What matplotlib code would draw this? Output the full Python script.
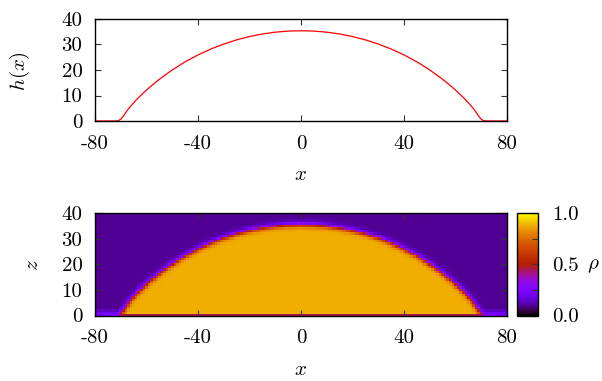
import numpy as np
import matplotlib
matplotlib.use("Agg")
import matplotlib.pyplot as plt
from matplotlib.path import Path

plt.rcParams["font.family"] = "serif"
plt.rcParams["font.serif"] = ["cmr10", "DejaVu Serif"]
plt.rcParams["mathtext.fontset"] = "cm"
plt.rcParams["axes.unicode_minus"] = False

# ---- data ----
# droplet height profile h(x), right half (mirrored for the left half)
x_half = [0, 5, 10, 15, 20, 25, 30, 35, 40, 45, 50, 55, 58, 60, 62, 64, 66,
          67, 68, 69, 70, 71, 72, 75, 80]
h_half = [35.4, 35.26, 34.84, 34.13, 33.12, 31.82, 30.19, 28.23, 25.91, 23.19,
          20.03, 16.37, 13.9, 12.13, 10.25, 8.25, 6.0, 4.8, 3.4, 1.9, 0.7,
          0.1, 0.0, 0.0, 0.0]

x_prof = [-v for v in reversed(x_half[1:])] + x_half
h_prof = list(reversed(h_half[1:])) + h_half

# density field parameters
rho_liquid = 0.88
rho_vapour = 0.10
interface_width = 1.05
rho_wall_liquid = 0.45          # first row under the droplet
rho_wall_vapour = [0.24, 0.20, 0.14]   # rows z = 0, 1, 2 outside the droplet
contact_x = 71

x_ticks = [-80, -40, 0, 40, 80]
x_ticklabels = ["-80", "-40", "0", "40", "80"]
y_ticks = [0, 10, 20, 30, 40]
y_ticklabels = ["0", "10", "20", "30", "40"]
cb_ticks = [0.0, 0.25, 0.5, 0.75, 1.0]
cb_ticklabels = ["0.0", "", "0.5", "", "1.0"]

# ---- build density grid from the profile ----
x_grid = np.arange(-80, 81)
z_grid = np.arange(0, 41)
X, Z = np.meshgrid(x_grid, z_grid)
px = np.array(x_prof, float)
ph = np.array(h_prof, float)
sel = np.abs(px) <= contact_x
sx, sh = px[sel], ph[sel]
d = np.full(X.shape, np.inf)
for i in range(len(sx) - 1):
    ax_, az_ = sx[i], sh[i]
    bx_, bz_ = sx[i + 1], sh[i + 1]
    vx, vz = bx_ - ax_, bz_ - az_
    L2 = vx * vx + vz * vz
    t = np.clip(((X - ax_) * vx + (Z - az_) * vz) / L2, 0, 1)
    dd = np.hypot(X - (ax_ + t * vx), Z - (az_ + t * vz))
    d = np.minimum(d, dd)
poly = Path(np.column_stack([np.r_[sx, contact_x, -contact_x],
                             np.r_[sh, -1.0, -1.0]]))
inside = poly.contains_points(np.column_stack([X.ravel(), Z.ravel() + 1e-6])).reshape(X.shape)
sgn = np.where(inside, 1.0, -1.0)
rho = rho_vapour + (rho_liquid - rho_vapour) * 0.5 * (1 + np.tanh(sgn * d / interface_width))
rho[0] = np.where(np.abs(x_grid) < contact_x - 0.5, rho_wall_liquid, rho_wall_vapour[0])
for j in (1, 2):
    rho[j] = np.maximum(rho[j], rho_wall_vapour[j])

# ---- figure ----
W, H = 602, 381
fig = plt.figure(figsize=(W / 100, H / 100), dpi=100)

def axrect(l, t, r, b):
    return [l / W, 1 - b / H, (r - l) / W, (b - t) / H]

ax1 = fig.add_axes(axrect(95, 19, 507, 121))
ax2 = fig.add_axes(axrect(95, 213, 507, 315.5))
cax = fig.add_axes(axrect(517, 213, 538, 315.5))

fs = 15
for ax in (ax1, ax2):
    ax.set_xlim(-80, 80)
    ax.set_ylim(0, 40)
    ax.set_xticks(x_ticks)
    ax.set_xticklabels(x_ticklabels)
    ax.set_yticks(y_ticks)
    ax.set_yticklabels(y_ticklabels)
    ax.tick_params(direction="in", length=4.5, width=0.8, top=True, right=True,
                   labelsize=fs, color="#333333")
    ax.tick_params(axis="x", pad=10)
    ax.tick_params(axis="y", pad=9)
    for s in ax.spines.values():
        s.set_linewidth(1.0)

ax1.plot(x_prof, h_prof, color="red", lw=0.9)

mesh = ax2.pcolormesh(x_grid, z_grid, rho, cmap="gnuplot", vmin=0, vmax=1,
                      shading="nearest")

cb = fig.colorbar(mesh, cax=cax)
cb.set_ticks(cb_ticks)
cb.set_ticklabels(cb_ticklabels)
cax.tick_params(direction="in", length=4.5, width=0.8, labelsize=fs, pad=10,
                color="#333333")
cb.outline.set_linewidth(1.0)

fig.text(301 / W, 1 - 175 / H, r"$x$", fontsize=fs, ha="center", va="center")
fig.text(301 / W, 1 - 370 / H, r"$x$", fontsize=fs, ha="center", va="center")
fig.text(20 / W, 1 - 71 / H, r"$h(x)$", fontsize=fs, ha="center", va="center",
         rotation=90)
fig.text(33 / W, 1 - 265 / H, r"$z$", fontsize=fs, ha="center", va="center",
         rotation=90)
fig.text(593 / W, 1 - 266 / H, r"$\rho$", fontsize=fs, ha="center", va="center")

fig.savefig("out.png", dpi=100)
